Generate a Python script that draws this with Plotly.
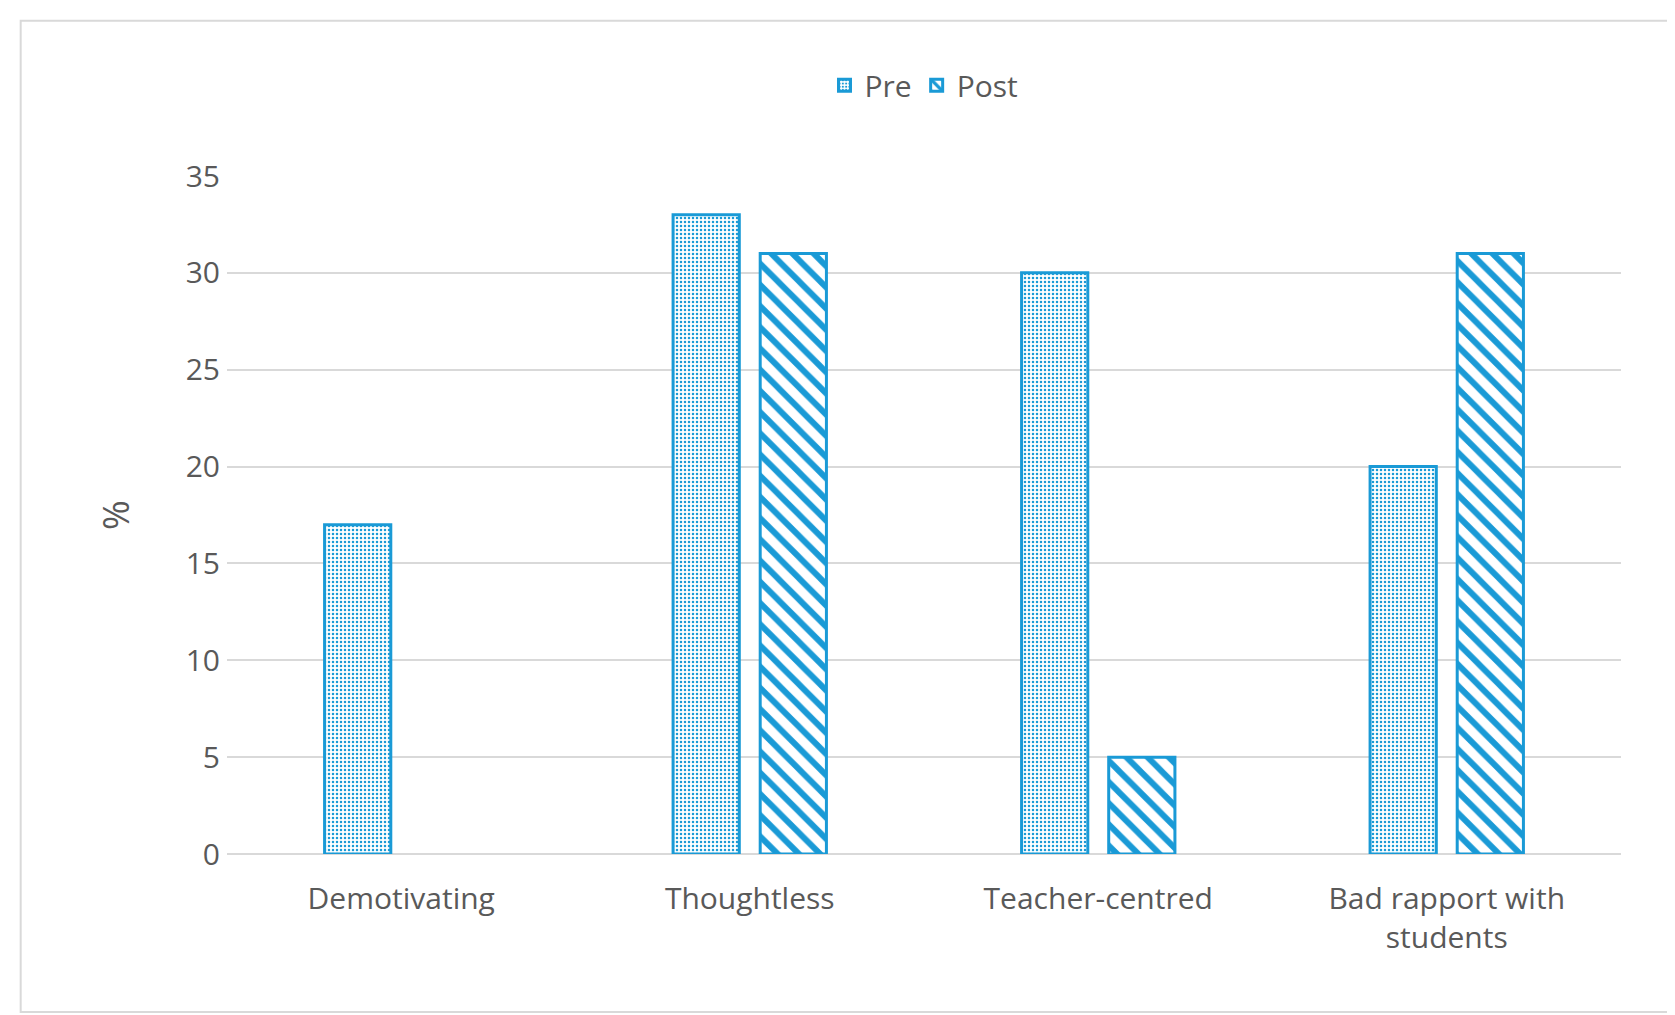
import plotly.graph_objects as go

categories = ["Demotivating", "Thoughtless", "Teacher-centred", "Bad rapport with<br>students"]
pre = [17, 33, 30, 20]
post = [None, 31, 5, 31]
yticks = [0, 5, 10, 15, 20, 25, 30, 35]

blue = "#1a9ad6"
fig = go.Figure()
fig.add_bar(name="Pre", x=categories, y=pre,
            marker=dict(color="white", line=dict(color=blue, width=3),
                        pattern=dict(shape=".", fgcolor=blue, bgcolor="white", fgopacity=1, size=4, solidity=0.3)))
fig.add_bar(name="Post", x=categories, y=post,
            marker=dict(color="white", line=dict(color=blue, width=3),
                        pattern=dict(shape="\\", fgcolor=blue, bgcolor="white", fgopacity=1, size=15, solidity=0.4)))
fig.update_layout(
    width=1675, height=1015, paper_bgcolor="white", plot_bgcolor="white",
    barmode="group", bargap=0.5, bargroupgap=0.24,
    font=dict(family="Open Sans, Lato, sans-serif", size=30, color="#595959"),
    margin=dict(l=219, r=62, t=168, b=169, autoexpand=False),
    legend=dict(orientation="h", x=0.5, xanchor="center", y=1.134, yanchor="middle",
                font=dict(size=30), itemwidth=30, bgcolor="rgba(0,0,0,0)"),
    shapes=[dict(type="rect", xref="paper", yref="paper", x0=-0.148, x1=1.034, y0=-0.233, y1=1.229,
                 line=dict(color="#d9d9d9", width=2))],
)
fig.update_yaxes(range=[0, 35], tickvals=yticks, gridcolor="#d9d9d9", gridwidth=2,
                 zeroline=True, zerolinecolor="#d9d9d9", zerolinewidth=2,
                 title=dict(text="%", standoff=45), ticklen=0, ticks="outside", tickcolor="white")
fig.update_xaxes(showline=False, ticks="outside", ticklen=18, tickcolor="white")
fig.write_html("out.html")
